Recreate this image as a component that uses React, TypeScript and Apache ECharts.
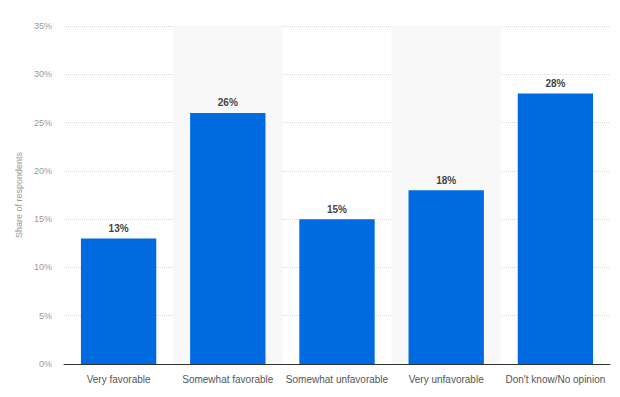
import React, { useEffect, useRef } from "react";
import * as echarts from "echarts";

const categories = [
  "Very favorable",
  "Somewhat favorable",
  "Somewhat unfavorable",
  "Very unfavorable",
  "Don't know/No opinion",
];
const values = [13, 26, 15, 18, 28];

export default function App() {
  const ref = useRef<HTMLDivElement>(null);
  useEffect(() => {
    if (!ref.current) return;
    const chart = echarts.init(ref.current, undefined, { renderer: "svg" });
    chart.setOption({
      animation: false,
      grid: { left: 64, right: 10, top: 26, bottom: 33 },
      xAxis: {
        type: "category",
        data: categories,
        axisLine: { lineStyle: { color: "#333", width: 1 } },
        axisTick: { show: false },
        axisLabel: {
          color: "#555",
          fontSize: 10,
          fontFamily: "Liberation Sans",
          margin: 10,
          interval: 0,
        },
        splitArea: {
          show: true,
          areaStyle: { color: ["rgba(255,255,255,0)", "#f8f8f8"] },
        },
      },
      yAxis: {
        type: "value",
        min: 0,
        max: 35,
        interval: 5,
        name: "Share of respondents",
        nameLocation: "middle",
        nameGap: 35,
        nameTextStyle: { color: "#999", fontSize: 9, fontFamily: "Liberation Sans" },
        axisLine: { show: false },
        axisTick: { show: false },
        axisLabel: {
          formatter: "{value}%",
          color: "#999",
          fontSize: 9,
          fontFamily: "Liberation Sans",
          margin: 12,
        },
        splitLine: { lineStyle: { color: "#d8d8d8", type: [1, 1] } },
      },
      series: [
        {
          type: "bar",
          data: values,
          barCategoryGap: "31%",
          itemStyle: { color: "#006ae0" },
          label: {
            show: true,
            position: "top",
            formatter: "{c}%",
            color: "#444",
            fontWeight: "bold",
            fontSize: 10,
            fontFamily: "Liberation Sans",
            distance: 5,
          },
        },
      ],
    });
    return () => chart.dispose();
  }, []);
  return <div ref={ref} style={{ width: 620, height: 397, position: "absolute", left: 0, top: 0 }} />;
}
